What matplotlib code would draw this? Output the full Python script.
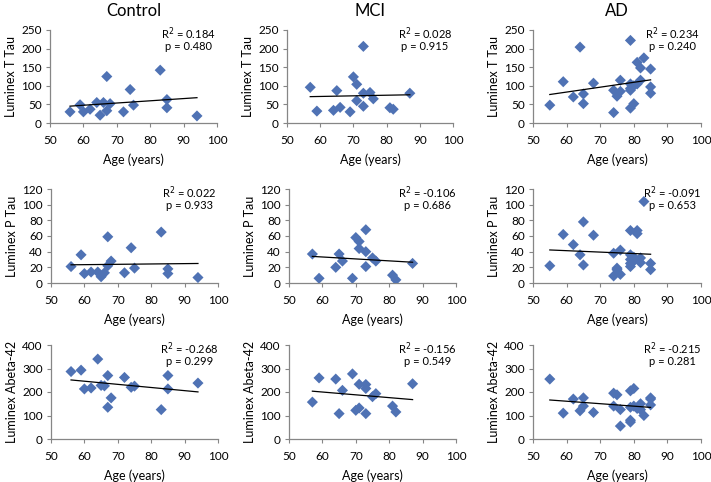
import numpy as np
import matplotlib
matplotlib.use("Agg")
import matplotlib.pyplot as plt

plt.rcParams['font.family'] = ['Lato', 'DejaVu Sans']

groups = ["Control", "MCI", "AD"]
ylabels = ["Luminex T Tau", "Luminex P Tau", "Luminex Abeta-42"]
yticks = [[0, 50, 100, 150, 200, 250], [0, 20, 40, 60, 80, 100, 120], [0, 100, 200, 300, 400]]
xticks = [50, 60, 70, 80, 90, 100]

# Control
ctrl_ttau_age = [56, 59, 60, 62, 64, 65, 66, 67, 67, 68, 72, 74, 75, 83, 85, 85, 94]
ctrl_ttau = [30, 49, 30, 37, 55, 21, 55, 125, 33, 52, 30, 90, 48, 142, 63, 41, 19]
ctrl_ptau_age = [56, 59, 60, 62, 64, 65, 66, 67, 67, 68, 72, 74, 75, 83, 85, 85, 94]
ctrl_ptau = [21, 36, 12, 14, 14, 8, 13, 59, 22, 28, 13, 45, 19, 65, 18, 12, 7]
ctrl_abeta_age = [56, 59, 60, 62, 64, 65, 66, 67, 67, 68, 72, 74, 75, 83, 85, 85, 94]
ctrl_abeta = [287, 293, 213, 217, 340, 228, 226, 270, 135, 175, 262, 220, 225, 125, 270, 213, 238]

# MCI
mci_ttau_age = [57, 59, 64, 65, 66, 69, 70, 71, 71, 73, 73, 73, 75, 76, 81, 82, 87]
mci_ttau = [96, 32, 34, 87, 42, 30, 124, 104, 60, 206, 80, 45, 82, 65, 41, 37, 80]
mci_ptau_age = [57, 59, 64, 65, 66, 69, 70, 71, 71, 73, 73, 73, 75, 76, 81, 82, 87]
mci_ptau = [37, 6, 20, 37, 28, 6, 58, 53, 44, 68, 40, 21, 32, 28, 10, 4, 25]
mci_abeta_age = [57, 59, 64, 65, 66, 69, 70, 71, 71, 73, 73, 73, 75, 76, 81, 82, 87]
mci_abeta = [157, 260, 255, 108, 207, 277, 122, 132, 233, 232, 215, 108, 180, 193, 140, 115, 235]

# AD
ad_ttau_age = [55, 59, 62, 64, 65, 65, 68, 74, 74, 75, 76, 76, 79, 79, 79, 79, 79, 80, 80, 81, 81, 82, 82, 83, 85, 85, 85]
ad_ttau = [48, 111, 70, 204, 78, 52, 107, 88, 28, 72, 115, 85, 222, 105, 93, 88, 40, 52, 100, 163, 105, 148, 115, 175, 145, 97, 80]
ad_ptau_age = [55, 59, 62, 64, 65, 65, 68, 74, 74, 75, 75, 76, 76, 79, 79, 79, 79, 79, 80, 80, 81, 81, 82, 82, 83, 85, 85]
ad_ptau = [22, 62, 49, 36, 78, 23, 61, 38, 9, 19, 17, 42, 11, 67, 36, 30, 25, 21, 33, 28, 67, 63, 32, 26, 104, 25, 17]
ad_abeta_age = [55, 59, 62, 64, 65, 65, 68, 74, 74, 75, 76, 76, 79, 79, 79, 79, 80, 80, 81, 82, 82, 83, 85, 85, 85]
ad_abeta = [255, 110, 170, 120, 175, 140, 113, 195, 140, 188, 125, 55, 205, 135, 80, 72, 215, 140, 130, 150, 125, 100, 175, 145, 170]

r2_text = [["0.184", "0.028", "0.234"], ["0.022", "-0.106", "-0.091"], ["-0.268", "-0.156", "-0.215"]]
p_text = [["0.480", "0.915", "0.240"], ["0.933", "0.686", "0.653"], ["0.299", "0.549", "0.281"]]

data = [
    [(ctrl_ttau_age, ctrl_ttau), (mci_ttau_age, mci_ttau), (ad_ttau_age, ad_ttau)],
    [(ctrl_ptau_age, ctrl_ptau), (mci_ptau_age, mci_ptau), (ad_ptau_age, ad_ptau)],
    [(ctrl_abeta_age, ctrl_abeta), (mci_abeta_age, mci_abeta), (ad_abeta_age, ad_abeta)],
]

W, H = 711, 482
fig = plt.figure(figsize=(W / 100, H / 100), dpi=100)

col_px = [[(50, 217), (287, 453), (533, 701)],
          [(51, 218), (289, 456), (533, 701)],
          [(51, 218), (289, 456), (533, 701)]]
row_px = [(30, 123), (189, 283), (345, 439)]

blue = '#4F72B4'
spine_c = '#868686'

for r in range(3):
    for c in range(3):
        l, rr = col_px[r][c]
        t, b = row_px[r]
        ax = fig.add_axes([l / W, 1 - b / H, (rr - l) / W, (b - t) / H])
        x, y = data[r][c]
        x = np.array(x, float)
        y = np.array(y, float)
        ax.scatter(x, y, marker='D', s=32, color=blue, edgecolors='none', zorder=3)
        k, d = np.polyfit(x, y, 1)
        xs = np.array([x.min(), x.max()])
        ax.plot(xs, k * xs + d, color='black', lw=0.9, zorder=4)
        ax.set_xlim(50, 100)
        ax.set_ylim(yticks[r][0], yticks[r][-1])
        ax.set_xticks(xticks)
        ax.set_yticks(yticks[r])
        for s in ['top', 'right']:
            ax.spines[s].set_visible(False)
        for s in ['left', 'bottom']:
            ax.spines[s].set_color(spine_c)
            ax.spines[s].set_linewidth(0.9)
        ax.tick_params(direction='out', length=3, width=0.8, color=spine_c,
                       labelsize=8.5)
        ax.tick_params(axis='x', pad=6)
        ax.tick_params(axis='y', pad=3)
        ax.set_ylabel(ylabels[r], fontsize=9, labelpad=3)
        ax.set_xlabel("Age (years)", fontsize=9, labelpad=5)
        ax.text(0.83, 0.96, "R$^2$ = " + r2_text[r][c], transform=ax.transAxes,
                ha='center', va='center', fontsize=8)
        ax.text(0.83, 0.82, "p = " + p_text[r][c], transform=ax.transAxes,
                ha='center', va='center', fontsize=8)
        if r == 0:
            ax.set_title(groups[c], fontsize=12, pad=10)

fig.savefig("out.png", dpi=100)
